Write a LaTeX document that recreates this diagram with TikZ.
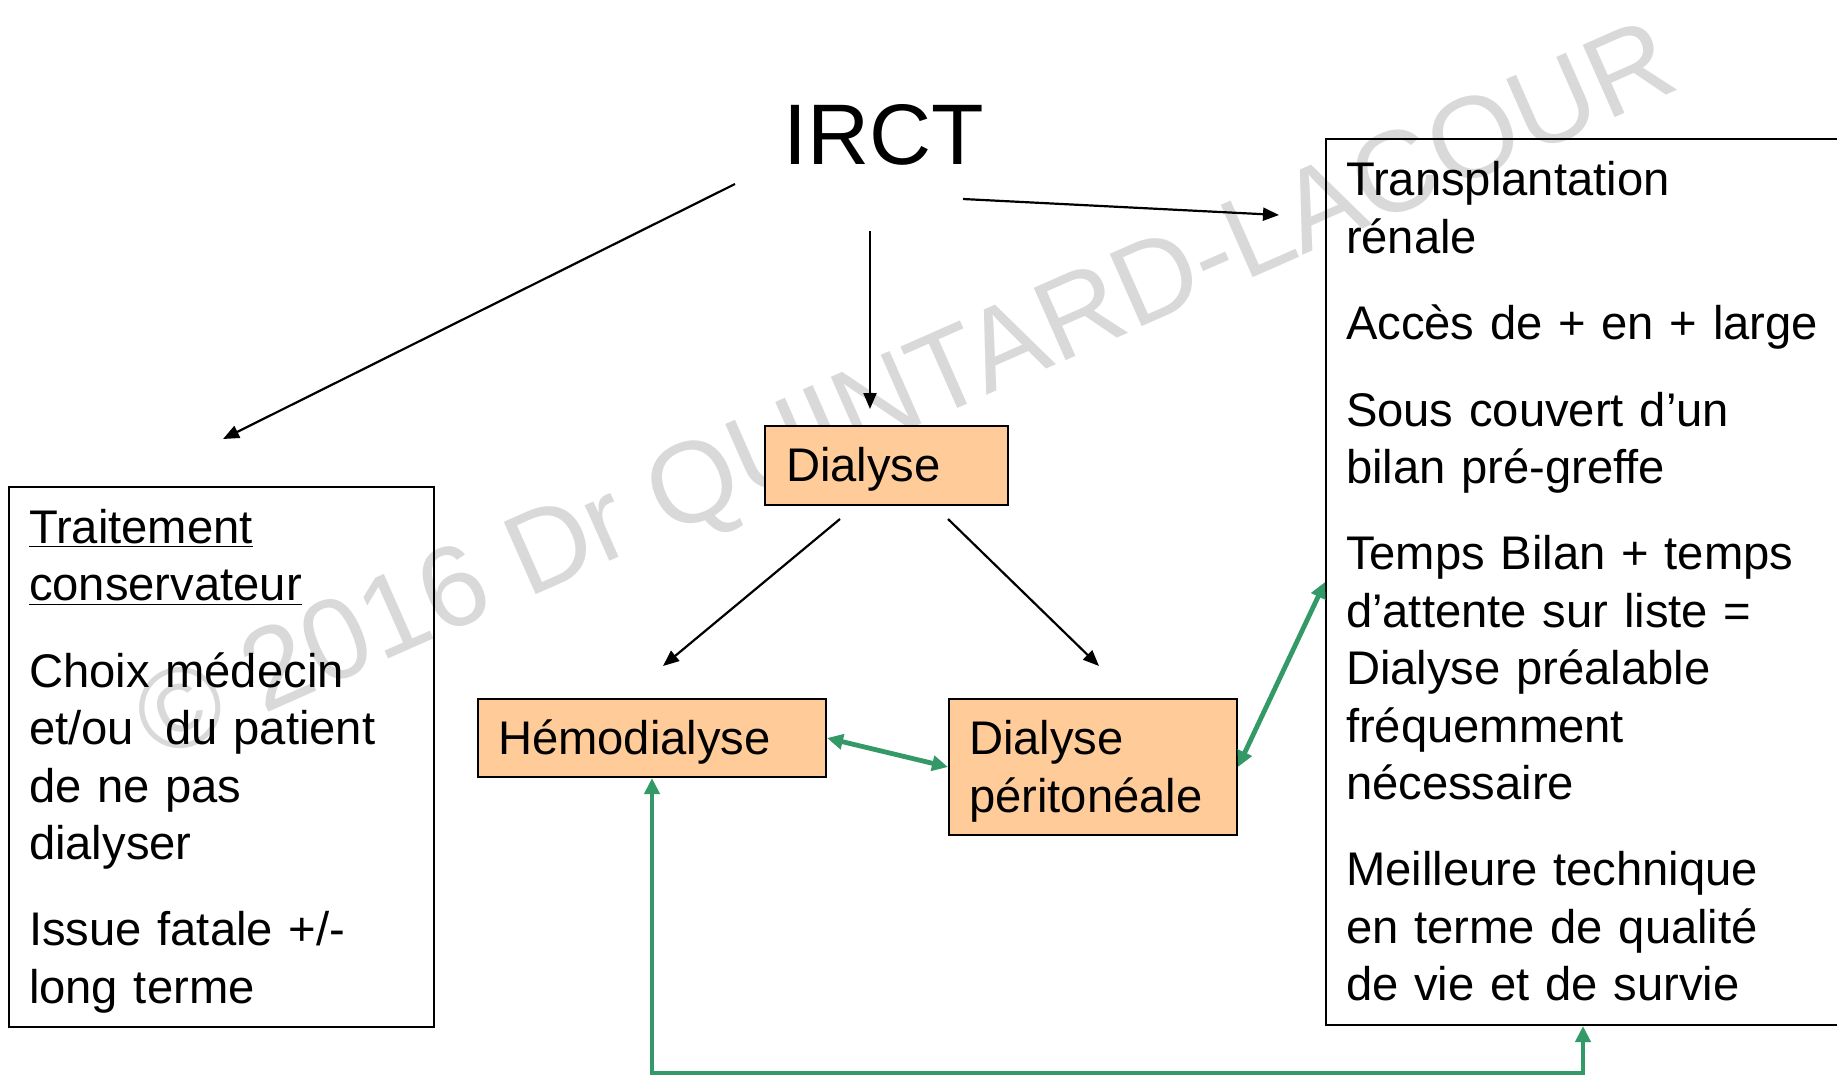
\documentclass[tikz,border=0pt]{standalone}
\usepackage{graphicx}
\usepackage{fontspec}
\setmainfont{Liberation Sans}
\usetikzlibrary{positioning,calc,arrows.meta}
\definecolor{peach}{HTML}{FFCC99}
\definecolor{linkgreen}{HTML}{339966}
\newcommand{\bodysize}{\fontsize{23.6}{28.7}\selectfont}
\newcommand{\ppstrut}{\rule[-0.212em]{0pt}{1.117em}}

\begin{document}
\begin{tikzpicture}[x=0.5pt, y=-0.5pt,
            panel/.style={draw, line width=1pt, align=left, inner xsep=10pt, inner ysep=0pt, font=\bodysize},
            dialbox/.style={panel, fill=peach},
            arrow/.style={-{Triangle[length=8pt,width=6.5pt]}, line width=1.1pt},
            link/.style={{Triangle[length=8pt,width=7.5pt]}-{Triangle[length=8pt,width=7.5pt]}, line width=2.4pt, draw=linkgreen}
        ]
        \clip (0,0) rectangle (1837,1077);

        % Watermark
        \node[text=gray!30, rotate=23.8, font=\fontsize{57.5}{60}\selectfont] (wmark) at (908,398) {© 2016 Dr QUINTARD-LACOUR};

        % Title
        \node[font=\fontsize{43}{50}\selectfont, inner sep=0pt] (irct) at (884,135) {IRCT};

        % Side panels
        \node[panel, text width=192.5pt, minimum height=270pt] (conserv) at (221.5,757)
            {\ppstrut\underline{Traitement}\\ \underline{conservateur}\\[14.5pt]
             Choix médecin\\ et/ou\ \ du patient\\ de ne pas\\ dialyser\\[14.5pt]
             Issue fatale +/-\\ long terme\ppstrut};
        \node[panel, text width=270pt, minimum height=443pt, anchor=west] (transp) at (1325,582)
            {\ppstrut Transplantation\\ rénale\\[14.5pt]
             Accès de + en + large\\[14.5pt]
             Sous couvert d’un\\ bilan pré-greffe\\[14.5pt]
             Temps Bilan + temps\\ d’attente sur liste =\\ Dialyse préalable\\ fréquemment\\ nécessaire\\[14.5pt]
             Meilleure technique\\ en terme de qualité\\ de vie et de survie\ppstrut};

        % Dialysis boxes
        \node[dialbox, text width=100.5pt, inner xsep=10.5pt, minimum height=39.5pt] (dialyse) at (886.5,465.5) {\ppstrut Dialyse\ppstrut};
        \node[dialbox, text width=154pt, minimum height=39pt] (hemo) at (652,738) {\ppstrut Hémodialyse\ppstrut};
        \node[dialbox, text width=124pt, minimum height=68pt] (perit) [right=60.5pt of hemo.north east, anchor=north west] {\ppstrut Dialyse\\ péritonéale\ppstrut};

        % From IRCT
        \draw[arrow] ($(irct)+(-149,49)$) -- ($(conserv.north)+(1.5,-47)$);
        \draw[arrow] ($(irct)+(-14,96)$) -- ($(dialyse.north)+(-16.5,-16)$);
        \draw[arrow] ($(irct)+(79,64)$) -- ($(transp.north west)+(-46,77)$);

        % From Dialyse
        \draw[arrow] ($(dialyse.south)+(-46.5,13)$) -- ($(hemo.north)+(11,-32)$);
        \draw[arrow] ($(dialyse.south)+(61.5,13)$) -- ($(perit.north)+(6,-32)$);

        % Green links
        \draw[link] (hemo.east) -- (perit.west);
        \draw[link] (perit.east) -- (transp.west);
        \draw[link] (hemo.south) -- ++(0,295) -| ($(transp.south west)+(258,0)$);

        \end{tikzpicture}
\end{document}
